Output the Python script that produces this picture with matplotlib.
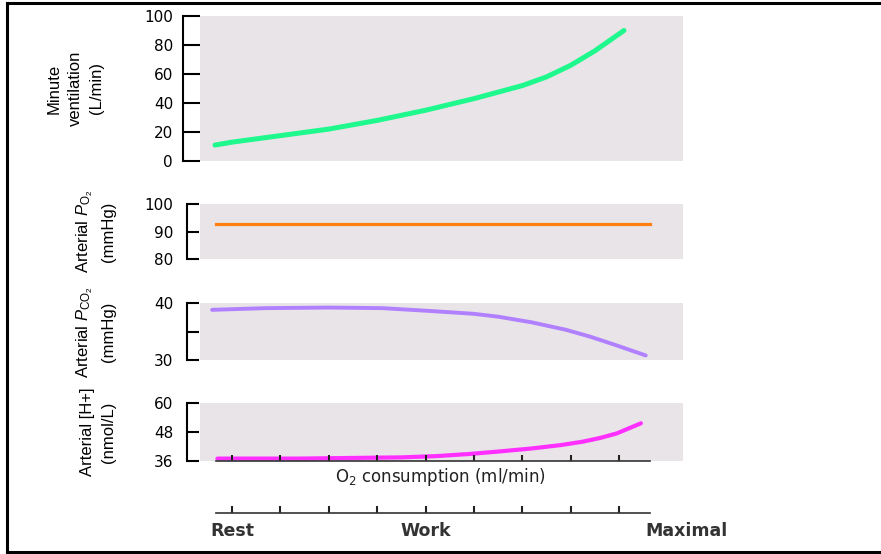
import matplotlib
matplotlib.use("Agg")
import matplotlib.pyplot as plt
from matplotlib.lines import Line2D

plt.rcParams['font.family'] = ['DejaVu Sans']
plt.rcParams['mathtext.fontset'] = 'custom'
plt.rcParams['mathtext.rm'] = 'Liberation Sans'
plt.rcParams['mathtext.it'] = 'Liberation Sans:italic'

# O2 consumption positions (tick units, Rest = 0)
x_vent = [-0.35, 0, 1, 2, 3, 4, 5, 6, 6.5, 7, 7.5, 8.1]
vent = [11, 13, 17.5, 22, 28, 35, 43, 52, 58, 66, 76, 90]

x_po2 = [-0.33, 8.64]
po2 = [92.7, 92.7]

x_pco2 = [-0.41, 0.7, 2, 3.1, 4.1, 5, 5.5, 6.2, 6.9, 7.4, 7.9, 8.55]
pco2 = [38.8, 39.1, 39.2, 39.1, 38.6, 38.1, 37.6, 36.6, 35.3, 34.1, 32.7, 30.8]

x_h = [-0.3, 1.4, 3.5, 4.2, 4.9, 5.5, 6.2, 6.8, 7.25, 7.6, 7.95, 8.45]
h_ion = [37.0, 37.0, 37.5, 38.0, 38.9, 39.9, 41.2, 42.6, 44.0, 45.5, 47.4, 51.6]

stage_labels = ['Rest', 'Work', 'Maximal']
stage_pos = [0, 4, 9.4]
xticks = list(range(9))

XLIM = (-0.66, 9.32)
BG = '#e8e4e8'
LABEL_FAM = ['Liberation Sans', 'DejaVu Sans']

fig = plt.figure(figsize=(8.81, 5.54), dpi=100)
W, H = 881.0, 554.0


def px_box(top, bottom, left=200, right=683):
    return [left / W, 1 - bottom / H, (right - left) / W, (bottom - top) / H]


def setup(ax, ylim, yticks, ylabels, label, outward, ticklen, pad, label_x):
    ax.set_facecolor(BG)
    ax.set_xlim(*XLIM)
    ax.set_ylim(*ylim)
    for s in ['top', 'right', 'bottom']:
        ax.spines[s].set_visible(False)
    ax.spines['left'].set_position(('outward', outward))
    ax.spines['left'].set_linewidth(1.5)
    ax.set_xticks([])
    ax.set_yticks(yticks)
    ax.set_yticklabels(ylabels)
    ax.tick_params(axis='y', direction='in', length=ticklen, width=1.5,
                   pad=pad, labelsize=11)
    ax.set_ylabel(label, family=LABEL_FAM, fontsize=12, linespacing=1.5)
    ax.yaxis.set_label_coords((label_x - 200) / 483.0, 0.5)


ax1 = fig.add_axes(px_box(16, 161))
setup(ax1, (0, 100), [0, 20, 40, 60, 80, 100],
      ['0', '20', '40', '60', '80', '100'],
      'Minute\nventilation\n(L/min)', 12.2, 12.2, 7.2, 104)
ax1.plot(x_vent, vent, color='#1ef88c', lw=3.6, solid_capstyle='round')

ax2 = fig.add_axes(px_box(204, 259))
setup(ax2, (80, 100), [80, 90, 100], ['80', '90', '100'],
      'Arterial $\\mathit{P}_{\\mathrm{O}_2}$\n(mmHg)', 9.4, 8.6, 10, 116)
ax2.plot(x_po2, po2, color='#ff8010', lw=2.3)

ax3 = fig.add_axes(px_box(303, 360))
setup(ax3, (30, 40), [30, 35, 40], ['30', '', '40'],
      'Arterial $\\mathit{P}_{\\mathrm{CO}_2}$\n(mmHg)', 9.4, 8.6, 10, 116)
ax3.plot(x_pco2, pco2, color='#b080ff', lw=2.8, solid_capstyle='round')

ax4 = fig.add_axes(px_box(403, 461))
setup(ax4, (36, 60), [36, 48, 60], ['36', '48', '60'],
      'Arterial [H+]\n(nmol/L)', 9.4, 8.6, 10, 116)
ax4.plot(x_h, h_ion, color='#ff30ff', lw=3.0, solid_capstyle='round',
         clip_on=False, zorder=1)
ax4.spines['bottom'].set_visible(True)
ax4.spines['bottom'].set_bounds(-0.33, 8.64)
ax4.spines['bottom'].set_color('#333333')
ax4.spines['bottom'].set_linewidth(1.2)
ax4.set_xticks(xticks)
ax4.set_xticklabels([])
ax4.tick_params(axis='x', direction='in', length=4, width=1.5, color='#222222')

fig.text(0.4994, 1 - 477 / H, 'O$_2$ consumption (ml/min)', ha='center',
         va='center', fontsize=12, color='#222222', family='DejaVu Sans',
         math_fontfamily='dejavusans')

# second scale with stage labels
ax5 = fig.add_axes(px_box(505, 513))
ax5.set_xlim(*XLIM)
ax5.set_facecolor('none')
for s in ['top', 'right', 'left']:
    ax5.spines[s].set_visible(False)
ax5.spines['bottom'].set_bounds(-0.33, 8.64)
ax5.spines['bottom'].set_color('#333333')
ax5.spines['bottom'].set_linewidth(1.2)
ax5.set_yticks([])
ax5.set_xticks(xticks)
ax5.set_xticklabels([])
ax5.tick_params(axis='x', direction='in', length=5, width=1.5, color='#222222')
for lab, pos in zip(stage_labels, stage_pos):
    ax5.text(pos, -2.2, lab, ha='center', va='center', fontsize=12.5,
             fontweight='bold', color='#333333', clip_on=False)

# outer frame
fig.add_artist(Line2D([7 / W, 1], [1 - 2.5 / H, 1 - 2.5 / H], color='black', lw=2.2))
fig.add_artist(Line2D([7 / W, 7 / W], [1 - 2.5 / H, 1 - 552 / H], color='black', lw=2.2))
fig.add_artist(Line2D([7 / W, 1], [1 - 552 / H, 1 - 552 / H], color='black', lw=2.2))

fig.savefig('out.png', dpi=100)
